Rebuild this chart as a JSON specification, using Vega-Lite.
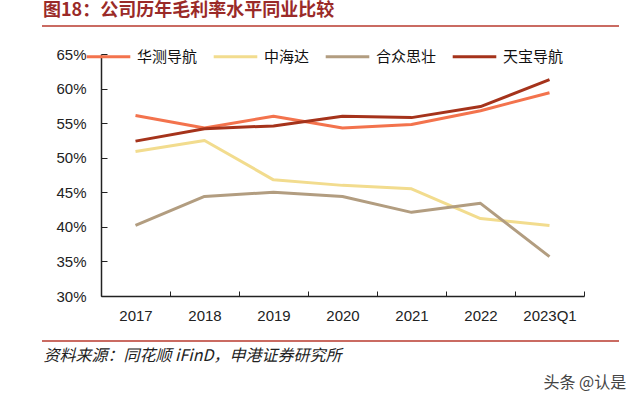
{
  "$schema": "https://vega.github.io/schema/vega-lite/v6.json",
  "width": 483,
  "height": 296,
  "autosize": "none",
  "padding": {"left": 101, "top": 0, "right": 56, "bottom": 106},
  "background": "white",
  "config": {"view": {"stroke": null}},
  "title": {
    "text": "图18：公司历年毛利率水平同业比较",
    "anchor": "start",
    "frame": "group",
    "dx": -58,
    "offset": -20,
    "font": "Noto Sans CJK SC",
    "fontSize": 18,
    "fontWeight": "bold",
    "color": "#9A2A28"
  },
  "data": {
    "values": [
      {"year": "2017", "company": "华测导航", "v": 0.561},
      {"year": "2018", "company": "华测导航", "v": 0.543},
      {"year": "2019", "company": "华测导航", "v": 0.560},
      {"year": "2020", "company": "华测导航", "v": 0.543},
      {"year": "2021", "company": "华测导航", "v": 0.548},
      {"year": "2022", "company": "华测导航", "v": 0.568},
      {"year": "2023Q1", "company": "华测导航", "v": 0.594},
      {"year": "2017", "company": "中海达", "v": 0.509},
      {"year": "2018", "company": "中海达", "v": 0.525},
      {"year": "2019", "company": "中海达", "v": 0.468},
      {"year": "2020", "company": "中海达", "v": 0.460},
      {"year": "2021", "company": "中海达", "v": 0.455},
      {"year": "2022", "company": "中海达", "v": 0.412},
      {"year": "2023Q1", "company": "中海达", "v": 0.402},
      {"year": "2017", "company": "合众思壮", "v": 0.402},
      {"year": "2018", "company": "合众思壮", "v": 0.444},
      {"year": "2019", "company": "合众思壮", "v": 0.450},
      {"year": "2020", "company": "合众思壮", "v": 0.444},
      {"year": "2021", "company": "合众思壮", "v": 0.421},
      {"year": "2022", "company": "合众思壮", "v": 0.434},
      {"year": "2023Q1", "company": "合众思壮", "v": 0.357},
      {"year": "2017", "company": "天宝导航", "v": 0.524},
      {"year": "2018", "company": "天宝导航", "v": 0.542},
      {"year": "2019", "company": "天宝导航", "v": 0.546},
      {"year": "2020", "company": "天宝导航", "v": 0.560},
      {"year": "2021", "company": "天宝导航", "v": 0.558},
      {"year": "2022", "company": "天宝导航", "v": 0.574},
      {"year": "2023Q1", "company": "天宝导航", "v": 0.613}
    ]
  },
  "layer": [
    {
      "mark": {"type": "line", "strokeWidth": 3, "strokeJoin": "round"},
      "encoding": {
        "x": {
          "field": "year",
          "type": "ordinal",
          "bandPosition": 0.5,
          "scale": {"type": "band", "paddingInner": 0, "paddingOuter": 0},
          "axis": {
            "title": "资料来源：同花顺 iFinD，申港证券研究所",
            "titleAnchor": "start",
            "titleX": -58,
            "titleY": 51,
            "titleFont": "Noto Sans CJK SC",
            "titleFontSize": 16,
            "titleFontStyle": "italic",
            "titleFontWeight": "normal",
            "titleColor": "#222",
            "labelAngle": 0,
            "labelFont": "Liberation Sans",
            "labelFontSize": 15,
            "labelColor": "#222",
            "labelPadding": 17,
            "tickBand": "extent",
            "tickSize": -5,
            "tickColor": "#222",
            "domainColor": "#222",
            "domainWidth": 1.5,
            "grid": false
          }
        },
        "y": {
          "field": "v",
          "type": "quantitative",
          "scale": {"domain": [0.3, 0.65], "range": [296, 54], "nice": false, "zero": false},
          "axis": {
            "values": [0.3, 0.35, 0.4, 0.45, 0.5, 0.55, 0.6, 0.65],
            "format": ".0%",
            "title": "头条 @认是",
            "titleAngle": 0,
            "titleAnchor": "start",
            "titleX": 442,
            "titleY": 390,
            "titleFont": "Noto Sans CJK SC",
            "titleFontSize": 16,
            "titleFontWeight": "normal",
            "titleColor": "#444",
            "labelFont": "Liberation Sans",
            "labelFontSize": 15,
            "labelColor": "#222",
            "labelPadding": 21,
            "tickSize": -6,
            "tickColor": "#222",
            "domainColor": "#222",
            "domainWidth": 1.5,
            "grid": false
          }
        },
        "color": {
          "field": "company",
          "type": "nominal",
          "scale": {
            "domain": ["华测导航", "中海达", "合众思壮", "天宝导航"],
            "range": ["#F3734D", "#F2DC8E", "#B29D80", "#A5331B"]
          },
          "legend": {
            "title": null,
            "orient": "none",
            "direction": "horizontal",
            "legendX": -16,
            "legendY": 33,
            "symbolType": "stroke",
            "symbolSize": 1900,
            "symbolStrokeWidth": 3,
            "labelFont": "Noto Sans CJK SC",
            "labelFontSize": 15,
            "labelColor": "#111",
            "labelOffset": 5,
            "columnPadding": 9
          }
        }
      }
    },
    {
      "data": {"values": [{"p": "bottom"}]},
      "mark": {"type": "rule", "color": "#B83A2E", "strokeWidth": 1.5},
      "encoding": {
        "x": {"value": -59},
        "x2": {"value": 518},
        "y": {"value": 341}
      }
    },
    {
      "data": {"values": [{"p": "top"}]},
      "mark": {"type": "rule", "color": "#B83A2E", "strokeWidth": 1.5},
      "encoding": {
        "x": {"value": -59},
        "x2": {"value": 518},
        "y": {"value": 26}
      }
    }
  ]
}
